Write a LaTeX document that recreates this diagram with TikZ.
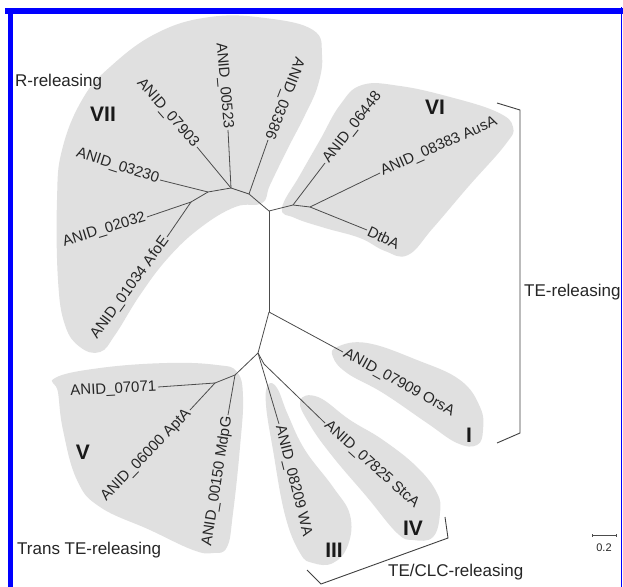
\documentclass[tikz,border=0pt]{standalone}
\usepackage{fontspec}
\setmainfont{Liberation Sans}
\begin{document}
\begin{tikzpicture}[x=1pt,y=-1pt,
  blob/.style={fill=black!12, draw=none},
  edge/.style={draw=black!70, line width=0.8pt},
  lbl/.style={font=\fontsize{15}{18}\selectfont, text=black!85, inner sep=1.5pt},
  grp/.style={font=\fontsize{17}{20}\selectfont, text=black!85, inner sep=0pt, anchor=west},
  rom/.style={font=\fontsize{21}{24}\selectfont\bfseries, text=black!90, inner sep=0pt},
  brk/.style={draw=black!75, line width=0.9pt},
  frame/.style={draw=blue, line cap=rect}]
\useasboundingbox (0,0) rectangle (623,586);
\fill[white] (0,0) rectangle (623,586);
% blobs
\path[blob] plot[smooth cycle, tension=0.7] coordinates {(210,17) (265,18) (313,30) (322,55) (318,85) (305,115) (287,150) (270,185) (262,203) (235,207) (200,228) (168,258) (140,295) (115,335) (100,352) (80,347) (65,325) (58,280) (57,200) (62,150) (82,100) (110,67) (157,33)};
\path[blob] plot[smooth cycle, tension=0.7] coordinates {(282,208) (300,175) (320,140) (340,105) (362,85) (400,86) (450,97) (497,112) (513,127) (505,145) (468,187) (433,228) (408,255) (385,251) (360,238) (325,228) (295,218)};
\path[blob] plot[smooth cycle, tension=0.7] coordinates {(55,378) (100,368) (167,363) (217,365) (237,372) (243,397) (240,447) (233,513) (227,547) (213,553) (193,550) (150,530) (100,507) (77,480) (63,430) (58,392)};
\path[blob] plot[smooth cycle, tension=0.7] coordinates {(337,347) (367,343) (417,360) (460,380) (480,407) (483,430) (477,445) (457,443) (427,423) (383,393) (347,373) (333,357)};
\path[blob] plot[smooth cycle, tension=0.7] coordinates {(300,401) (318,397) (350,420) (383,440) (417,467) (437,493) (440,513) (433,537) (413,540) (397,533) (367,497) (333,457) (310,425)};
\path[blob] plot[smooth cycle, tension=0.7] coordinates {(268,385) (277,388) (288,415) (305,450) (333,487) (350,515) (348,545) (333,563) (313,563) (300,553) (285,515) (273,450) (266,405)};
% internal nodes
\coordinate (A) at (269,211);
\coordinate (J) at (249,194);
\coordinate (K) at (231,188);
\coordinate (L) at (208,192);
\coordinate (M) at (191,202);
\coordinate (G) at (293,205);
\coordinate (H) at (310,207);
\coordinate (B) at (269,312);
\coordinate (C) at (258,353);
\coordinate (F) at (264,364);
\coordinate (D) at (235,375);
\coordinate (E) at (215,383);
% tips
\coordinate (t03386) at (268,140);
\coordinate (t00523) at (228,130);
\coordinate (t07903) at (197,147);
\coordinate (t03230) at (160,180);
\coordinate (t02032) at (147,217);
\coordinate (tAfoE) at (167,237);
\coordinate (t06448) at (325,163);
\coordinate (tAusA) at (380,173);
\coordinate (tDtbA) at (367,230);
\coordinate (tOrsA) at (343,352);
\coordinate (tStcA) at (325,423);
\coordinate (tWA) at (279,424);
\coordinate (tMdpG) at (228,415);
\coordinate (tAptA) at (190,410);
\coordinate (t07071) at (158,387);
% edges
\draw[edge] (A) -- (J) -- (K) -- (L) -- (M);
\draw[edge] (J) -- (t03386);
\draw[edge] (K) -- (t00523);
\draw[edge] (K) -- (t07903);
\draw[edge] (L) -- (t03230);
\draw[edge] (M) -- (t02032);
\draw[edge] (M) -- (tAfoE);
\draw[edge] (A) -- (G) -- (H);
\draw[edge] (G) -- (t06448);
\draw[edge] (H) -- (tAusA);
\draw[edge] (H) -- (tDtbA);
\draw[edge] (A) -- (B);
\draw[edge] (B) -- (tOrsA);
\draw[edge] (B) -- (C) -- (D) -- (E);
\draw[edge] (C) -- (tWA);
\draw[edge] (C) -- (F) -- (tStcA);
\draw[edge] (D) -- (tMdpG);
\draw[edge] (E) -- (tAptA);
\draw[edge] (E) -- (t07071);
% leaf labels
\node[lbl, anchor=east, rotate=-111] (n03386) at (t03386) {ANID\_03386};
\node[lbl, anchor=east, rotate=-85] (n00523) at (t00523) {ANID\_00523};
\node[lbl, anchor=east, rotate=-49] (n07903) at (t07903) {ANID\_07903};
\node[lbl, anchor=east, rotate=-18] (n03230) at (t03230) {ANID\_03230};
\node[lbl, anchor=east, rotate=17] (n02032) at (t02032) {ANID\_02032};
\node[lbl, anchor=east, rotate=54] (nAfoE) at (tAfoE) {ANID\_01034 AfoE};
\node[lbl, anchor=west, rotate=52] (n06448) at (t06448) {ANID\_06448};
\node[lbl, anchor=west, rotate=24] (nAusA) at (tAusA) {ANID\_08383 AusA};
\node[lbl, anchor=west, rotate=-25] (nDtbA) at (tDtbA) {DtbA};
\node[lbl, anchor=west, rotate=-29] (nOrsA) at (tOrsA) {ANID\_07909 OrsA};
\node[lbl, anchor=west, rotate=-42] (nStcA) at (tStcA) {ANID\_07825 StcA};
\node[lbl, anchor=west, rotate=-76] (nWA) at (tWA) {ANID\_08209 WA};
\node[lbl, anchor=east, rotate=81] (nMdpG) at (tMdpG) {ANID\_00150 MdpG};
\node[lbl, anchor=east, rotate=46] (nAptA) at (tAptA) {ANID\_06000 AptA};
\node[lbl, anchor=east, rotate=3] (n07071) at (t07071) {ANID\_07071};
% roman numerals
\node[rom] (rVII) at (103,114) {VII};
\node[rom] (rVI) at (435,107) {VI};
\node[rom] (rI) at (469,435) {I};
\node[rom] (rIV) at (413,528) {IV};
\node[rom] (rIII) at (334,550) {III};
\node[rom] (rV) at (83,452) {V};
% group labels
\node[grp] (gR) at (15,82) {R-releasing};
\node[grp] (gTE) at (524,292) {TE-releasing};
\node[grp] (gTrans) at (17,550) {Trans TE-releasing};
\node[grp] (gCLC) at (388,572) {TE/CLC-releasing};
% brackets
\coordinate (b1) at (497,103);
\coordinate (b2) at (520,110);
\coordinate (b3) at (520,433);
\coordinate (b4) at (497,443);
\draw[brk] (b1) -- (b2) -- (b3) -- (b4);
\coordinate (c1) at (307,570);
\coordinate (c2) at (321,584);
\coordinate (c3) at (448,538);
\coordinate (c4) at (445,517);
\draw[brk] (c1) -- (c2) -- (c3) -- (c4);
% scale bar
\coordinate (s1) at (592,535);
\coordinate (s2) at (616,535);
\draw[draw=black!70, line width=0.6pt] (s1) -- (s2);
\draw[draw=black!70, line width=0.5pt] ([yshift=-1.5]s1) -- ([yshift=1.5]s1) ([yshift=-1.5]s2) -- ([yshift=1.5]s2);
\node[font=\fontsize{11}{13}\selectfont, text=black!85, inner sep=0pt] (sc) at (604,548) {0.2};
% frame
\draw[frame, line width=5pt] (10.5,586) -- (10.5,11);
\draw[frame, line width=6pt] (8,11) -- (622,11);
\draw[frame, line width=1.6pt] (621.5,8) -- (621.5,586);
\end{tikzpicture}
\end{document}
